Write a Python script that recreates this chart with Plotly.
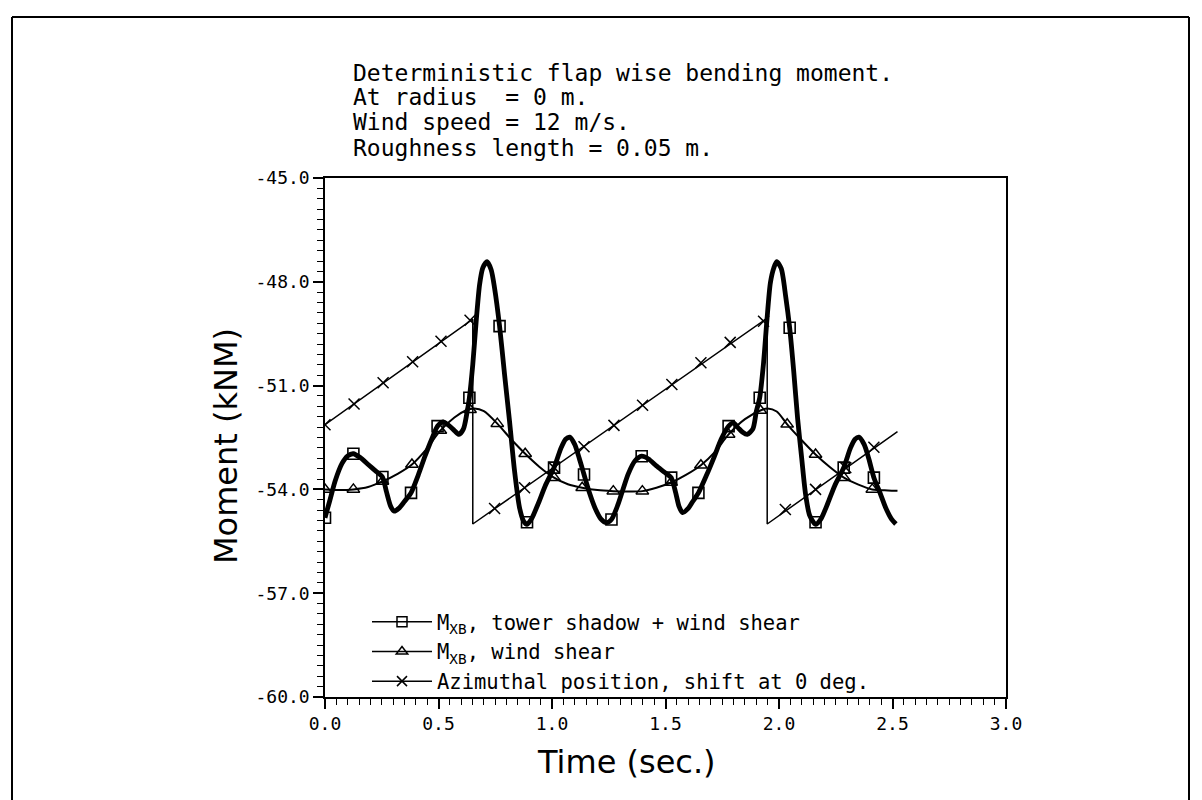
import plotly.graph_objects as go

# ---------------- data ----------------
# M_XB, tower shadow + wind shear (thick curve)
ts_t = [0.000, 0.020, 0.045, 0.075, 0.100, 0.125, 0.155, 0.190, 0.225, 0.253,
        0.270, 0.290, 0.305, 0.325, 0.350, 0.379, 0.410, 0.440, 0.470, 0.496,
        0.520, 0.545, 0.570, 0.590, 0.610, 0.625, 0.636, 0.651, 0.666, 0.681,
        0.695, 0.714, 0.732, 0.747, 0.769, 0.791, 0.813, 0.835, 0.857, 0.875,
        0.890, 0.910, 0.940, 0.970, 1.009, 1.040, 1.060, 1.078, 1.100, 1.120,
        1.141, 1.165, 1.189, 1.215, 1.240, 1.262, 1.290, 1.315, 1.336, 1.365,
        1.395, 1.425, 1.460, 1.495, 1.525, 1.545, 1.560, 1.575, 1.600, 1.620,
        1.645, 1.680, 1.715, 1.745, 1.778, 1.800, 1.820, 1.840, 1.860, 1.885,
        1.900, 1.915, 1.932, 1.947, 1.962, 1.977, 1.990, 2.010, 2.030, 2.047,
        2.065, 2.082, 2.100, 2.117, 2.135, 2.161, 2.185, 2.215, 2.245, 2.285,
        2.315, 2.335, 2.352, 2.375, 2.395, 2.418, 2.445, 2.470, 2.495, 2.515]
ts_v = [-54.82, -54.35, -53.75, -53.25, -53.03, -52.97, -53.08, -53.28, -53.48, -53.64,
        -54.05, -54.50, -54.63, -54.55, -54.35, -54.10, -53.60, -53.05, -52.55, -52.17,
        -52.05, -52.15, -52.30, -52.41, -52.25, -51.80, -51.35, -50.39, -49.14, -48.08,
        -47.60, -47.42, -47.65, -48.18, -49.28, -50.68, -52.03, -53.47, -54.53, -54.92,
        -55.01, -54.85, -54.40, -53.90, -53.37, -52.80, -52.55, -52.49, -52.70, -53.10,
        -53.57, -54.10, -54.53, -54.85, -54.96, -54.87, -54.45, -53.95, -53.55, -53.18,
        -53.04, -53.12, -53.32, -53.50, -53.66, -54.10, -54.50, -54.67, -54.55, -54.35,
        -54.10, -53.60, -53.05, -52.55, -52.17, -52.08, -52.22, -52.35, -52.41, -52.25,
        -51.75, -51.35, -50.34, -49.09, -48.03, -47.60, -47.42, -47.62, -48.45, -49.33,
        -50.60, -51.95, -53.10, -54.14, -54.75, -55.01, -54.85, -54.40, -53.90, -53.37,
        -52.80, -52.55, -52.49, -52.70, -53.10, -53.66, -54.10, -54.53, -54.85, -55.00]
ts_mark_t = [0.000, 0.125, 0.253, 0.379, 0.496, 0.636, 0.769, 0.890, 1.009, 1.141,
             1.262, 1.395, 1.525, 1.645, 1.778, 1.915, 2.047, 2.161, 2.285, 2.418]
ts_mark_v = [-54.82, -52.97, -53.64, -54.10, -52.17, -51.35, -49.28, -54.95, -53.37, -53.57,
             -54.87, -53.04, -53.66, -54.10, -52.17, -51.35, -49.33, -54.95, -53.37, -53.66]

# M_XB, wind shear (thin curve with triangles)
ws_t = [0.000, 0.065, 0.125, 0.190, 0.253, 0.320, 0.383, 0.445, 0.508, 0.570,
        0.620, 0.658, 0.700, 0.759, 0.820, 0.882, 0.945, 1.009, 1.070, 1.133,
        1.200, 1.270, 1.335, 1.398, 1.460, 1.525, 1.590, 1.656, 1.720, 1.778,
        1.850, 1.918, 1.950, 1.990, 2.036, 2.100, 2.161, 2.225, 2.286, 2.350,
        2.411, 2.480, 2.522]
ws_v = [-54.00, -54.02, -54.00, -53.93, -53.77, -53.55, -53.28, -52.85, -52.30, -51.92,
        -51.72, -51.66, -51.74, -52.10, -52.55, -52.97, -53.35, -53.66, -53.85, -53.95,
        -54.02, -54.05, -54.06, -54.05, -53.95, -53.80, -53.58, -53.30, -52.90, -52.41,
        -51.97, -51.72, -51.66, -51.75, -52.12, -52.58, -52.99, -53.36, -53.66, -53.86,
        -54.00, -54.03, -54.04]
ws_mark_t = [0.000, 0.125, 0.253, 0.383, 0.508, 0.639, 0.759, 0.882, 1.009, 1.133,
             1.270, 1.398, 1.525, 1.656, 1.778, 1.918, 2.036, 2.161, 2.286, 2.411]
ws_mark_v = [-54.00, -54.00, -53.77, -53.28, -52.30, -51.70, -52.10, -52.97, -53.66, -53.95,
             -54.05, -54.05, -53.80, -53.30, -52.41, -51.72, -52.12, -52.99, -53.66, -54.00]

# Azimuthal position, shift at 0 deg. (sawtooth)
az_t = [0.000, 0.651, 0.651, 1.948, 1.948, 2.522]
az_v = [-52.13, -49.08, -55.00, -49.05, -55.00, -52.33]
az_mark_t = [0.000, 0.128, 0.256, 0.386, 0.511, 0.639, 0.747, 0.879, 1.009, 1.141,
             1.273, 1.399, 1.528, 1.656, 1.785, 1.932, 2.028, 2.161, 2.294, 2.418]
az_mark_v = [-52.13, -51.53, -50.92, -50.31, -49.72, -49.11, -54.55, -53.95, -53.37, -52.77,
             -52.15, -51.57, -50.97, -50.34, -49.75, -49.14, -54.58, -54.00, -53.37, -52.78]

legend_names = ["M<sub>XB</sub>, tower shadow + wind shear",
                "M<sub>XB</sub>, wind shear",
                "Azimuthal position, shift at 0 deg."]

x_tickvals = [0.0, 0.5, 1.0, 1.5, 2.0, 2.5, 3.0]
x_ticktext = ["0.0", "0.5", "1.0", "1.5", "2.0", "2.5", "3.0"]
y_tickvals = [-60.0, -57.0, -54.0, -51.0, -48.0, -45.0]
y_ticktext = ["-60.0", "-57.0", "-54.0", "-51.0", "-48.0", "-45.0"]

title_lines = ["Deterministic flap wise bending moment.",
               "At radius\u00a0 = 0 m.",
               "Wind speed = 12 m/s.",
               "Roughness length = 0.05 m."]
x_title = "Time (sec.)"
y_title = "Moment (kNM)"

# ---------------- layout geometry (pixels) ----------------
W, H = 1202, 800
L, R, T, B = 325, 1006, 178, 697


def px(xp):
    return (xp - L) / (R - L)


def py(yp):
    return (B - yp) / (B - T)


MONO = "DejaVu Sans Mono"
SANS = "DejaVu Sans"

fig = go.Figure()

# thick curve
fig.add_trace(go.Scatter(x=ts_t, y=ts_v, mode="lines", showlegend=False,
                         line=dict(color="black", width=4.8, shape="spline", smoothing=0.7)))
fig.add_trace(go.Scatter(x=ts_mark_t, y=ts_mark_v, mode="markers", showlegend=False,
                         marker=dict(symbol="square-open", size=11, color="black",
                                     line=dict(width=1.6, color="black"))))
# wind shear
fig.add_trace(go.Scatter(x=ws_t, y=ws_v, mode="lines", showlegend=False,
                         line=dict(color="black", width=2, shape="spline", smoothing=0.8)))
fig.add_trace(go.Scatter(x=ws_mark_t, y=ws_mark_v, mode="markers", showlegend=False,
                         marker=dict(symbol="triangle-up-open", size=11, color="black",
                                     line=dict(width=1.5, color="black"))))
# azimuth sawtooth
fig.add_trace(go.Scatter(x=az_t, y=az_v, mode="lines", showlegend=False,
                         line=dict(color="black", width=1.5)))
fig.add_trace(go.Scatter(x=az_mark_t, y=az_mark_v, mode="markers", showlegend=False,
                         marker=dict(symbol="x-thin-open", size=11, color="black",
                                     line=dict(width=1.5, color="black"))))

# legend entries
leg_symbols = ["square-open", "triangle-up-open", "x-thin-open"]
for name, sym in zip(legend_names, leg_symbols):
    fig.add_trace(go.Scatter(x=[None], y=[None], mode="lines+markers", name=name,
                             line=dict(color="black", width=1.5),
                             marker=dict(symbol=sym, size=10, color="black",
                                         line=dict(width=1.5, color="black"))))

annotations = []
for txt, yc in zip(title_lines, [73, 97, 122, 148]):
    annotations.append(dict(text=txt, xref="paper", yref="paper", x=px(351), y=py(yc),
                            xanchor="left", yanchor="middle", showarrow=False,
                            font=dict(family=MONO, size=23, color="black")))
annotations.append(dict(text=x_title, xref="paper", yref="paper", x=px(626), y=py(762),
                        xanchor="center", yanchor="middle", showarrow=False,
                        font=dict(family=SANS, size=32, color="black")))
annotations.append(dict(text=y_title, xref="paper", yref="paper", x=px(226), y=py(446),
                        xanchor="center", yanchor="middle", showarrow=False, textangle=-90,
                        font=dict(family=SANS, size=32, color="black")))

frame = dict(color="black", width=2)
shapes = [
    dict(type="line", xref="paper", yref="paper", x0=px(12), x1=px(1189), y0=py(17), y1=py(17), line=frame),
    dict(type="line", xref="paper", yref="paper", x0=px(12), x1=px(12), y0=py(17), y1=py(805), line=frame),
    dict(type="line", xref="paper", yref="paper", x0=px(1189), x1=px(1189), y0=py(17), y1=py(805), line=frame),
]

fig.update_layout(
    width=W, height=H,
    margin=dict(l=L, r=W - R, t=T, b=H - B),
    paper_bgcolor="white", plot_bgcolor="white",
    annotations=annotations, shapes=shapes,
    legend=dict(x=px(367), y=py(602), xanchor="left", yanchor="top",
                bgcolor="rgba(0,0,0,0)", borderwidth=0,
                font=dict(family=MONO, size=20.5, color="black"),
                tracegroupgap=0, itemwidth=60),
)
fig.update_xaxes(range=[0, 3], tickvals=x_tickvals, ticktext=x_ticktext,
                 showgrid=False, zeroline=False, showline=True, linecolor="black", linewidth=1.5,
                 mirror=True, ticks="outside", ticklen=10, tickwidth=1.5, tickcolor="black",
                 tickfont=dict(family=MONO, size=18, color="black"),
                 minor=dict(dtick=0.05, tick0=0, ticks="outside", ticklen=6, tickwidth=1.2,
                            tickcolor="black", showgrid=False))
fig.update_yaxes(range=[-60, -45], tickvals=y_tickvals, ticktext=y_ticktext,
                 showgrid=False, zeroline=False, showline=True, linecolor="black", linewidth=1.5,
                 mirror=True, ticks="outside", ticklen=10, tickwidth=1.5, tickcolor="black",
                 tickfont=dict(family=MONO, size=18, color="black"),
                 minor=dict(dtick=0.3, tick0=-60, ticks="outside", ticklen=6, tickwidth=1.2,
                            tickcolor="black", showgrid=False))

fig.write_html("out.html")
